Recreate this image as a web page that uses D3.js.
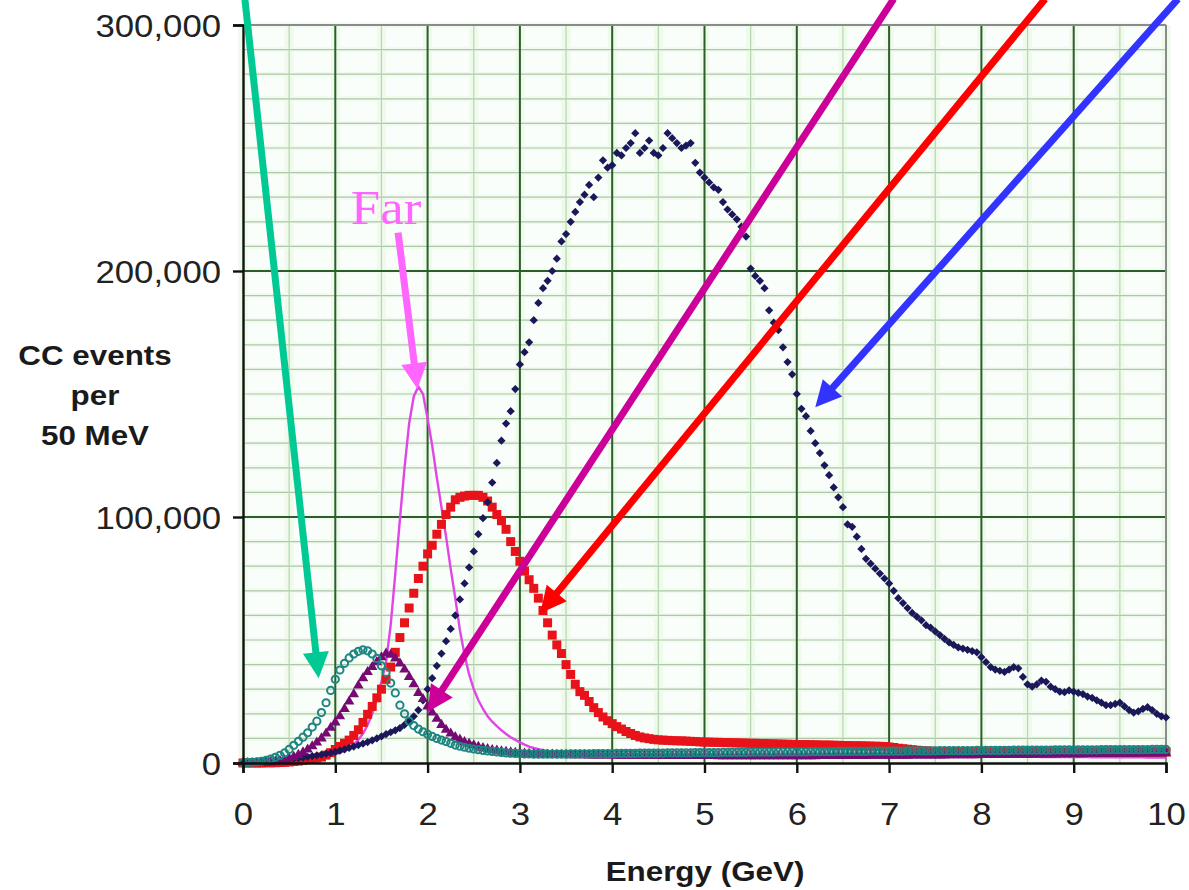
<!DOCTYPE html>
<html><head><meta charset="utf-8">
<script src="https://cdn.jsdelivr.net/npm/d3@7"></script>
<style>body{margin:0;background:#fff;} svg{display:block;}</style>
</head><body><svg id="c" width="1189" height="890"></svg>
<script>
// ---------------- DATA ----------------
const binWidthGeV = 0.05;            // 50 MeV bins, first bin at 0 GeV
const xTickValues = [0,1,2,3,4,5,6,7,8,9,10];
const yTickValues = [0,100000,200000,300000];
const yLabelLines = ["CC events","per","50 MeV"];
const xLabel = "Energy (GeV)";
const farLabel = "Far";

// CC events per 50 MeV bin, in thousands
const navyK = [0.2,0.3,0.4,0.5,0.6,0.7,0.9,1.0,1.2,1.4,
1.6,1.8,2.0,2.2,2.5,2.8,3.1,3.4,3.8,4.1,
4.5,5.0,5.5,6.1,6.7,7.3,7.9,8.5,9.2,10.0,
10.8,11.7,12.5,13.3,14.2,15.5,17.0,19.0,21.5,25.5,
30.0,34.5,39.5,44.5,49.5,54.5,60.0,66.5,73.0,79.5,
86.0,93.0,99.5,106,114,122,131,138,143,152,
162,167,171,180,187,193,196,200,205,212,
215,220,224,228,231,235,230,238,245,242,
243,248,247,250,252,256,248,250,253,248,
247,250,256,254,252,250,251,252,244,240,
238,236,234,233,228,225,223,221,218,214,
201,198,196,193,184,179,176,169,163,158,
150,144,141,135,130,126,121,117,112,108,
104,97,96,92,87,83,81,79,77,75,
73,70,67,65,63,61,59.5,58,56,55,
53.5,52,50.5,49,48,47,46.5,46,45.5,45,
43,41,39,38,37.5,37,38,39,38.5,35,
32,31,32,33.5,33,31,30,29,28.8,29.5,
29,28.5,28,27,26.5,25.5,24.5,23.5,23.5,24,
24.5,23,21.5,20.5,21,22,22.7,21.5,20,19,
18.5];

const redK = [0,0,0,0,0,0.1,0.1,0.1,0.2,0.3,
0.4,0.6,0.8,1.1,1.4,1.7,2.0,2.4,3.2,4.2,
5.5,6.7,8.0,9.3,11.2,13.5,16.5,19.8,23,26.5,
30,34,39,45,51,57,63,69,75,80,
85,88.5,93,97,101,104,107,108,108.5,108.8,
108.8,108.8,108,106.5,104,101,98.5,95,90,86,
82,78,74.5,71,67,62,57,52,48,44.5,
40,36,32,29,27.5,25,22.5,20.5,18.7,17.2,
16,14.8,13.8,12.8,12,11.2,10.6,10.2,9.9,9.6,
9.4,9.3,9.2,9.1,9.0,9.0,8.9,8.8,8.7,8.6,
8.5,8.5,8.4,8.4,8.3,8.3,8.2,8.2,8.1,8.1,
8.0,8.0,7.9,7.9,7.8,7.8,7.7,7.7,7.6,7.6,
7.5,7.5,7.5,7.4,7.4,7.3,7.3,7.3,7.2,7.2,
7.1,7.1,7.0,7.0,7.0,6.9,6.9,6.8,6.8,6.7,
6.5,6.3,6.0,5.8,5.6,5.4,5.2,5.0,4.9,4.8,
4.7,4.7,4.6,4.6,4.6,4.5,4.5,4.5,4.5,4.5,
4.5,4.5,4.5,4.5,4.5,4.5,4.5,4.5,4.5,4.5,
4.5,4.5,4.5,4.5,4.5,4.5,4.5,4.5,4.5,4.5,
4.5,4.5,4.5,4.5,4.5,4.5,4.5,4.5,4.5,4.5,
4.5,4.5,4.5,4.5,4.5,4.5,4.5,4.5,4.5,4.5,
4.5];

const farK = [0,0,0,0,0,0,0.1,0.1,0.1,0.2,
0.3,0.4,0.6,0.8,1.0,1.3,1.6,2.0,2.4,2.9,
3.5,4.2,5.0,6.2,7.5,9.5,12,15.5,20,26,
33,41,56,77,99,120,138,149,153,150,
140,129,116,104,92,79,67,54,44,36,
30,25.5,22,19,16.8,15,13.3,11.8,10.5,9.4,
8.4,7.5,6.7,6.1,5.6,5.2,4.9,4.6,4.4,4.2,
4.0,3.9,3.9,3.8,3.8,3.7,3.7,3.7,3.6,3.6,
3.6,3.6,3.5,3.5,3.5,3.5,3.5,3.4,3.4,3.4,
3.4,3.4,3.4,3.3,3.3,3.3,3.3,3.3,3.3,3.3,
3.2,3.2,3.2,3.2,3.2,3.2,3.2,3.2,3.1,3.1,
3.1,3.1,3.1,3.1,3.1,3.1,3.1,3.1,3.0,3.0,
3.0,3.0,3.0,3.0,3.0,2.9,2.9,2.9,2.9,2.9,
2.9,2.9,2.9,2.8,2.8,2.8,2.8,2.8,2.8,2.8,
2.8,2.8,2.7,2.7,2.7,2.7,2.7,2.7,2.7,2.7,
2.7,2.6,2.6,2.6,2.6,2.6,2.6,2.6,2.6,2.6,
2.6,2.6,2.5,2.5,2.5,2.5,2.5,2.5,2.5,2.5,
2.5,2.5,2.5,2.4,2.4,2.4,2.4,2.4,2.4,2.4,
2.4,2.4,2.4,2.4,2.3,2.3,2.3,2.3,2.3,2.3,
2.3,2.3,2.3,2.3,2.3,2.3,2.2,2.2,2.2,2.2,
2.2];

const purpleK = [0,0,0,0,0.1,0.2,0.3,0.5,0.8,1.2,
1.8,2.5,3.3,4.3,5.5,6.8,8.3,10,12,14.3,
16.5,19,22,25,28,31.5,34.5,37,39,41,
43,44.5,44,42.5,40.5,38,35,32,28.5,26,
23,20.5,18,15.5,13.5,12,10.5,9.5,8.5,7.8,
7.2,6.6,6.1,5.7,5.3,5.0,4.7,4.5,4.3,4.1,
3.9,3.8,3.7,3.6,3.5,3.5,3.4,3.4,3.3,3.3,
3.3,3.2,3.2,3.2,3.2,3.1,3.1,3.1,3.1,3.1,
3.1,3.0,3.0,3.0,3.0,3.0,3.0,3.0,3.0,3.0,
3.0,2.9,2.9,2.9,2.9,2.9,2.9,2.9,2.9,2.9,
2.9,2.9,2.9,2.8,2.8,2.8,2.8,2.8,2.8,2.8,
2.8,2.8,2.8,2.8,2.8,2.8,2.8,2.8,2.8,2.8,
2.8,2.8,2.8,2.8,2.8,2.9,2.9,2.9,2.9,2.9,
2.9,2.9,2.9,2.9,2.9,2.9,3.0,3.0,3.0,3.0,
3.0,3.0,3.0,3.0,3.0,3.1,3.1,3.1,3.1,3.1,
3.1,3.1,3.1,3.2,3.2,3.2,3.2,3.2,3.2,3.2,
3.3,3.3,3.3,3.3,3.3,3.3,3.4,3.4,3.4,3.4,
3.4,3.4,3.5,3.5,3.5,3.5,3.5,3.6,3.6,3.6,
3.6,3.6,3.6,3.7,3.7,3.7,3.7,3.7,3.8,3.8,
3.8,3.8,3.8,3.8,3.9,3.9,3.9,3.9,3.9,3.9,
4.0];

const tealK = [0.1,0.2,0.3,0.5,0.7,1.1,1.6,2.3,3.1,4.1,
5.5,7.2,8.8,10.5,12.3,14.6,17,20.5,24.5,29.5,
34,37.8,40.5,42.7,44.3,45.4,46,45.6,44.3,42.5,
39.5,36.8,32.5,28.5,23.5,20,17,15.2,13.8,12.7,
11.7,10.8,10.0,9.3,8.7,8.0,7.3,6.8,6.4,6.0,
5.7,5.4,5.1,4.9,4.7,4.5,4.3,4.1,4.0,3.9,
3.8,3.7,3.7,3.6,3.6,3.6,3.6,3.6,3.6,3.6,
3.6,3.7,3.7,3.7,3.7,3.7,3.8,3.8,3.8,3.8,
3.8,3.9,3.9,3.9,3.9,3.9,4.0,4.0,4.0,4.0,
4.0,4.0,4.1,4.1,4.1,4.1,4.1,4.1,4.2,4.2,
4.2,4.2,4.2,4.2,4.3,4.3,4.3,4.3,4.3,4.3,
4.4,4.4,4.4,4.4,4.4,4.4,4.5,4.5,4.5,4.5,
4.5,4.5,4.5,4.6,4.6,4.6,4.6,4.6,4.6,4.7,
4.7,4.7,4.7,4.7,4.7,4.7,4.8,4.8,4.8,4.8,
4.8,4.8,4.8,4.8,4.9,4.9,4.9,4.9,4.9,4.9,
4.9,5.0,5.0,5.0,5.0,5.0,5.0,5.0,5.0,5.1,
5.1,5.1,5.1,5.1,5.1,5.1,5.1,5.2,5.2,5.2,
5.2,5.2,5.2,5.2,5.2,5.2,5.3,5.3,5.3,5.3,
5.3,5.3,5.3,5.3,5.3,5.3,5.4,5.4,5.4,5.4,
5.4,5.4,5.4,5.4,5.4,5.4,5.4,5.5,5.5,5.5,
5.5];

// annotation arrows: [energy GeV, events] of tail and tip
const arrowTails = [[0.02,310600],[1.68,215600],[7.05,310600],[8.69,310600],[10.13,310600]];
const arrowTips  = [[0.82,34500],[1.89,152000],[2.00,20700],[3.22,60900],[6.20,144600]];
const arrowColors = ["#00c994","#ff66ff","#cc0099","#ff0000","#3333ff"];
const farLabelPos = [1.55,219300];

// ---------------- CHART ----------------
const svg = d3.select("#c");
const M = {left:243, top:25, right:23, bottom:127};
const W = 1189, H = 890;
const x = d3.scaleLinear().domain([0,10]).range([M.left, W-M.right]);
const y = d3.scaleLinear().domain([0,300000]).range([H-M.bottom, M.top]);
const toSeries = arr => arr.map((v,i)=>({e:i*binWidthGeV, v:v*1000}));

function stretch(sel,k){
  sel.each(function(){
    const w=this.getComputedTextLength();
    d3.select(this).attr("textLength",w*k).attr("lengthAdjust","spacingAndGlyphs");
  });
}

// background
svg.append("rect").attr("x",x(0)).attr("y",y(300000)).attr("width",x(10)-x(0)).attr("height",y(0)-y(300000)).attr("fill","#fafefa");

const grid = svg.append("g");
grid.selectAll(".gv").data(x.ticks(20)).join("line")
  .attr("x1",d=>x(d)).attr("x2",d=>x(d)).attr("y1",y(300000)).attr("y2",y(0))
  .attr("stroke","#eefaea").attr("stroke-width",9);
grid.selectAll(".gh").data(y.ticks(30)).join("line")
  .attr("x1",x(0)).attr("x2",x(10)).attr("y1",d=>y(d)).attr("y2",d=>y(d))
  .attr("stroke","#f0faee").attr("stroke-width",5);
grid.selectAll(".mh").data(y.ticks(30).filter(d=>d%100000!==0)).join("line")
  .attr("x1",x(0)).attr("x2",x(10)).attr("y1",d=>y(d)).attr("y2",d=>y(d))
  .attr("stroke","#adc7a8").attr("stroke-width",1.2);
grid.selectAll(".mv").data(x.ticks(20).filter(d=>d%1!==0)).join("line")
  .attr("x1",d=>x(d)).attr("x2",d=>x(d)).attr("y1",y(300000)).attr("y2",y(0))
  .attr("stroke","#b4d6ae").attr("stroke-width",1.2);
grid.selectAll(".Mh").data(yTickValues.slice(1)).join("line")
  .attr("x1",x(0)).attr("x2",x(10)).attr("y1",d=>y(d)).attr("y2",d=>y(d))
  .attr("stroke","#2b5e2b").attr("stroke-width",2);
grid.selectAll(".Mv").data(xTickValues.slice(1)).join("line")
  .attr("x1",d=>x(d)).attr("x2",d=>x(d)).attr("y1",y(300000)).attr("y2",y(0))
  .attr("stroke",d=>d===10?"#8a8a8a":"#2b5e2b").attr("stroke-width",2);
svg.append("line").attr("x1",x(0)).attr("x2",x(10)).attr("y1",y(300000)).attr("y2",y(300000))
  .attr("stroke","#8a8a8a").attr("stroke-width",2);

// series
const plot = svg.append("g");
plot.append("path").datum(toSeries(farK))
  .attr("d", d3.line().x(d=>x(d.e)).y(d=>y(d.v)))
  .attr("fill","none").attr("stroke","#e046e6").attr("stroke-width",2.4);

plot.selectAll(".red").data(toSeries(redK)).join("path")
  .attr("transform",d=>`translate(${x(d.e)},${y(d.v)})`)
  .attr("d",d3.symbol(d3.symbolSquare,81)()).attr("fill","#e8131a");

plot.selectAll(".navy").data(toSeries(navyK)).join("path")
  .attr("transform",d=>`translate(${x(d.e)},${y(d.v)}) rotate(45)`)
  .attr("d",d3.symbol(d3.symbolSquare,34)()).attr("fill","#1a1858");

plot.selectAll(".purple").data(toSeries(purpleK)).join("path")
  .attr("transform",d=>`translate(${x(d.e)},${y(d.v)})`)
  .attr("d",d3.symbol(d3.symbolTriangle,48)()).attr("fill","#750a72");

plot.selectAll(".teal").data(toSeries(tealK)).join("circle")
  .attr("cx",d=>x(d.e)).attr("cy",d=>y(d.v)).attr("r",3.6)
  .attr("fill","none").attr("stroke","#1f8580").attr("stroke-width",2);

// axes
const yAxis = svg.append("g").attr("transform",`translate(${x(0)},0)`)
  .call(d3.axisLeft(y).tickValues(yTickValues).tickFormat(d3.format(",")).tickSize(10).tickPadding(12));
const xAxis = svg.append("g").attr("transform",`translate(0,${y(0)})`)
  .call(d3.axisBottom(x).tickValues(xTickValues).tickFormat(d3.format("d")).tickSize(10));
[yAxis,xAxis].forEach(g=>{
  g.select(".domain").attr("stroke","#111").attr("stroke-width",2.4);
  g.selectAll(".tick line").attr("stroke","#111").attr("stroke-width",2.4);
  g.selectAll(".tick text").attr("font-family","'Liberation Sans', Arial, sans-serif")
    .attr("font-size",31).attr("fill","#222");
});
xAxis.selectAll(".tick text").attr("y",62).attr("dy",0);
yAxis.selectAll(".tick text").attr("dy","0.36em");
stretch(svg.selectAll(".tick text"),1.12);

// axis titles
const yl = svg.append("g").attr("font-family","'Liberation Sans', Arial, sans-serif")
  .attr("font-weight","bold").attr("font-size",28).attr("fill","#1a1a1a").attr("text-anchor","middle");
yl.selectAll("text").data(yLabelLines).join("text")
  .attr("x",95).attr("y",(d,i)=>365+i*40).text(d=>d);
stretch(yl.selectAll("text"),1.12);
const xl = svg.append("text").attr("x",705).attr("y",881).attr("text-anchor","middle")
  .attr("font-family","'Liberation Sans', Arial, sans-serif").attr("font-weight","bold")
  .attr("font-size",28).attr("fill","#1a1a1a").text(xLabel);
stretch(xl,1.12);

// arrows
const ag = svg.append("g");
arrowTails.forEach((t,i)=>{
  const p0=[x(t[0]),y(t[1])], p1=[x(arrowTips[i][0]),y(arrowTips[i][1])];
  const dx=p1[0]-p0[0], dy=p1[1]-p0[1], L=Math.hypot(dx,dy);
  const ux=dx/L, uy=dy/L, px=-uy, py=ux;
  const hl=26, hw=13;
  const bx=p1[0]-ux*hl, by=p1[1]-uy*hl;
  ag.append("line").attr("x1",p0[0]).attr("y1",p0[1]).attr("x2",bx+ux*3).attr("y2",by+uy*3)
    .attr("stroke",arrowColors[i]).attr("stroke-width",7);
  ag.append("path").attr("d",`M${p1[0]},${p1[1]}L${bx+px*hw},${by+py*hw}L${bx-px*hw},${by-py*hw}Z`)
    .attr("fill",arrowColors[i]);
});
const ft = svg.append("text").attr("x",x(farLabelPos[0])).attr("y",y(farLabelPos[1]))
  .attr("text-anchor","middle").attr("font-family","'Liberation Serif', 'Times New Roman', serif")
  .attr("font-size",48).attr("fill","#ff66ff").text(farLabel);
stretch(ft,1.1);
</script></body></html>
